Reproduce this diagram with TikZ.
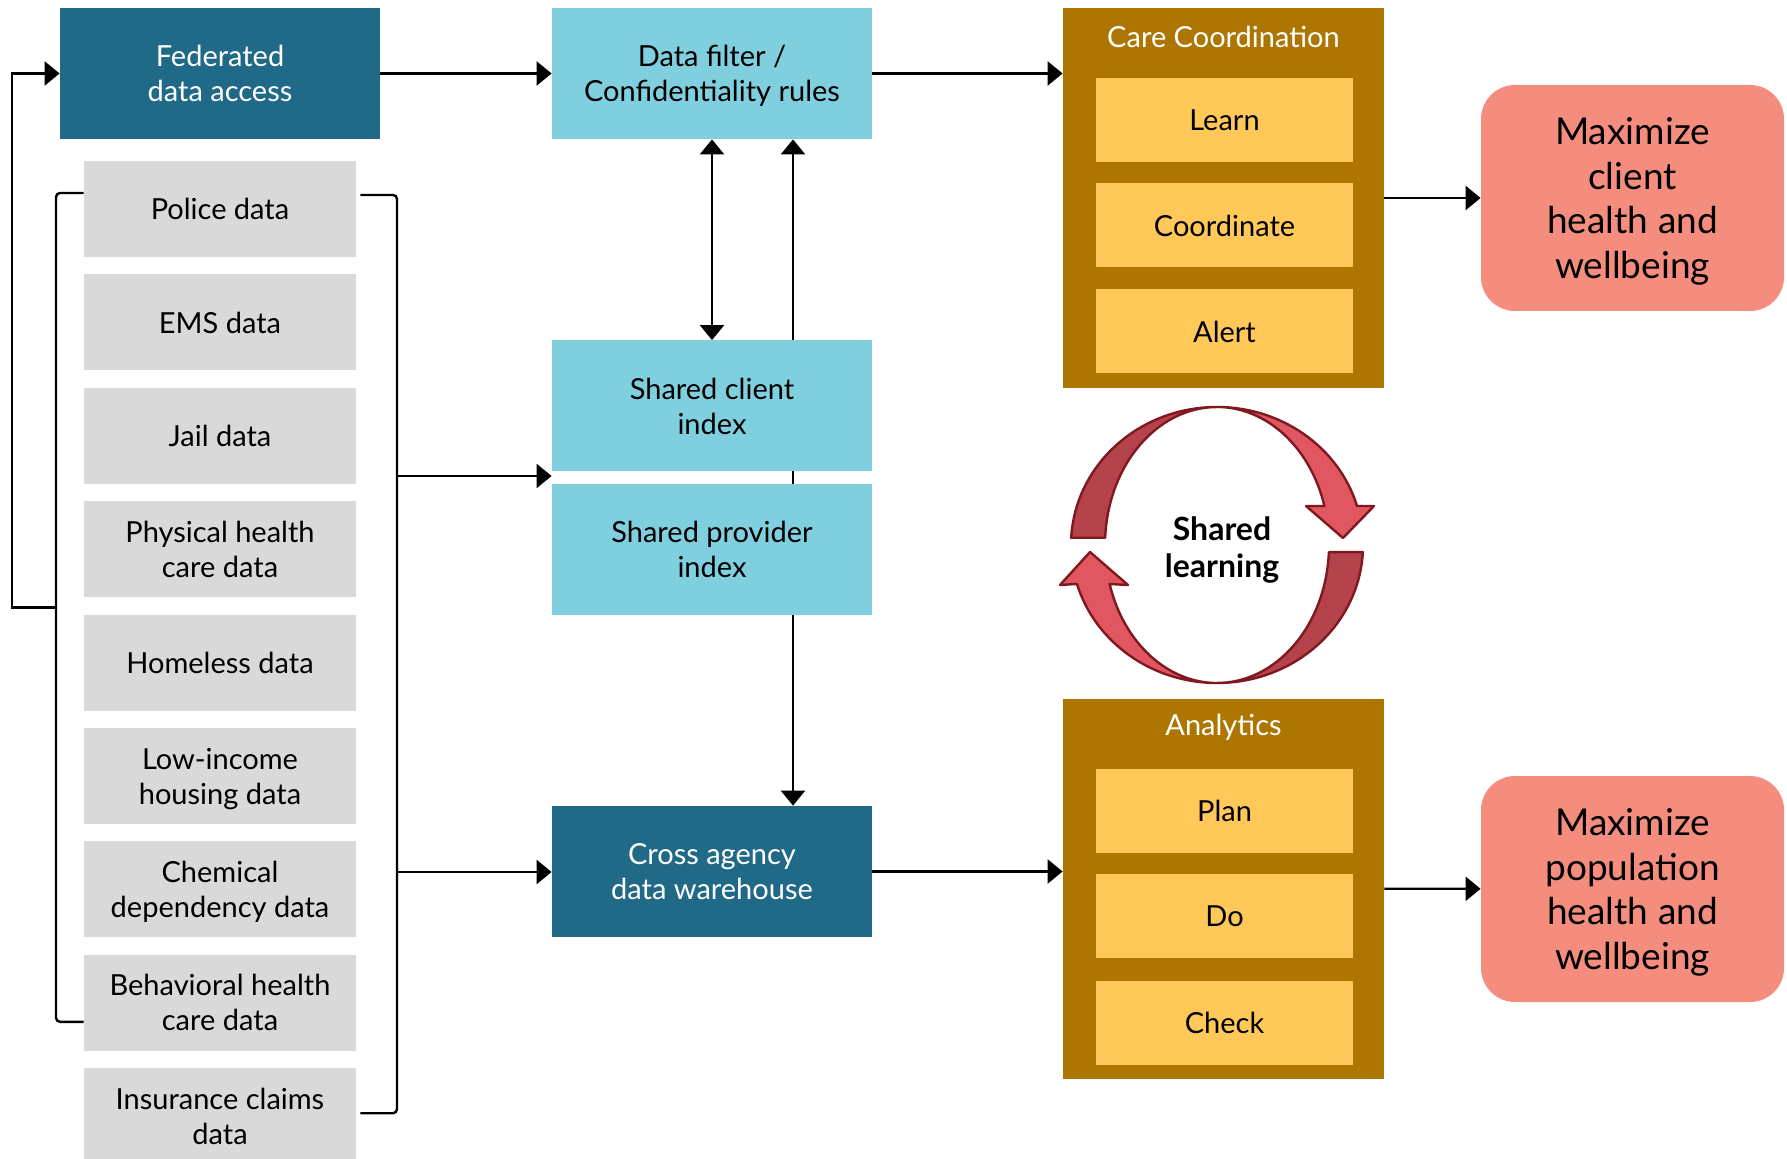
\documentclass[tikz,border=0pt]{standalone}
\usepackage{fontspec}
\setmainfont{Lato}
\usetikzlibrary{arrows.meta,calc,backgrounds}

\definecolor{cTeal}{RGB}{32,105,135}
\definecolor{cCyan}{RGB}{128,207,223}
\definecolor{cGray}{RGB}{217,217,217}
\definecolor{cGold}{RGB}{173,118,0}
\definecolor{cYellow}{RGB}{255,200,88}
\definecolor{cSalmon}{RGB}{244,141,125}
\definecolor{ringD}{RGB}{181,67,75}
\definecolor{ringL}{RGB}{224,87,97}
\definecolor{ringB}{RGB}{128,24,32}

\newcommand{\boxfont}{\fontsize{14.5}{17.5}\selectfont}
\newcommand{\maxfont}{\fontsize{18.5}{22.4}\selectfont}

\tikzstyle{fS}=[fill=cTeal,text=white,minimum width=160pt,minimum height=65.5pt,inner sep=0pt,align=center,font=\boxfont,text depth=0pt]
\tikzstyle{cS}=[fill=cCyan,minimum width=160pt,minimum height=65.5pt,inner sep=0pt,align=center,font=\boxfont,text depth=0pt]
\tikzstyle{gS}=[fill=cGray,minimum width=136pt,minimum height=48pt,inner sep=0pt,align=center,font=\boxfont,text depth=0pt]
\tikzstyle{oS}=[fill=cGold,minimum width=160.5pt,minimum height=190pt,inner sep=0pt]
\tikzstyle{tS}=[text=white,inner sep=0pt,font=\boxfont]
\tikzstyle{yS}=[fill=cYellow,minimum width=128.5pt,minimum height=42pt,inner sep=0pt,align=center,font=\boxfont]
\tikzstyle{mS}=[fill=cSalmon,rounded corners=17pt,minimum width=151.5pt,minimum height=113pt,inner sep=0pt,align=center,font=\maxfont,text depth=0pt]
\tikzstyle{lS}=[inner sep=0pt,align=center,font=\fontsize{16}{18.8}\selectfont\bfseries,text depth=0pt]
\tikzstyle{aS}=[line width=1.2pt]
\tikzstyle{bS}=[line width=1.2pt,rounded corners=2pt]
\tikzstyle{rD}=[fill=ringD,draw=ringB,line width=1.2pt,line join=round]
\tikzstyle{rL}=[fill=ringL,draw=ringB,line width=1.2pt,line join=round]

\begin{document}
\begin{tikzpicture}[x=0.5pt,y=-0.5pt,>={Triangle[length=7.5pt,width=12pt]}]
                \useasboundingbox (0,0) rectangle (1787,1159);
                % sources
                \draw (220,73.5) node[fS] (fed) {Federated\\data access};
                \draw (220,209) node[gS] (police) {Police data};
                \draw (220,322.4) node[gS] (ems) {EMS data};
                \draw (220,435.8) node[gS] (jail) {Jail data};
                \draw (220,549.2) node[gS] (phys) {Physical health\\care data};
                \draw (220,662.6) node[gS] (homeless) {Homeless data};
                \draw (220,776) node[gS] (lowinc) {Low-income\\housing data};
                \draw (220,889.4) node[gS] (chem) {Chemical\\dependency data};
                \draw (220,1002.8) node[gS] (behav) {Behavioral health\\care data};
                \draw (220,1116.2) node[gS] (insur) {Insurance claims\\data};
                % middle
                \draw (712,73.5) node[cS] (filter) {Data filter /\\Confidentiality rules};
                \draw (712,406) node[cS] (client) {Shared client\\index};
                \draw (712,549.5) node[cS] (provider) {Shared provider\\index};
                \draw (712,871.5) node[fS] (wareh) {Cross agency\\data warehouse};
                % care coordination / analytics
                \draw (1223.5,198) node[oS] (care) {};
                \draw (1223.5,37) node[tS] (careT) {Care Coordination};
                \draw (1224.5,120) node[yS] (learn) {Learn};
                \draw (1224.5,225.5) node[yS] (coord) {Coordinate};
                \draw (1224.5,331.5) node[yS] (alert) {Alert};
                \draw (1223.5,888.5) node[oS] (ana) {};
                \draw (1223.5,727) node[tS] (anaT) {Analytics};
                \draw (1224.5,811) node[yS] (plan) {Plan};
                \draw (1224.5,916) node[yS] (do) {Do};
                \draw (1224.5,1022.5) node[yS] (check) {Check};
                % goals
                \draw (1632.5,198) node[mS] (maxC) {Maximize\\client\\health and\\wellbeing};
                \draw (1632.5,889) node[mS] (maxP) {Maximize\\population\\health and\\wellbeing};
                % shared learning
                \draw[rD] (1071.2,537.8) arc[start angle=183,end angle=270,x radius=146,y radius=138]
                    arc[start angle=270,end angle=183,x radius=112,y radius=138] -- cycle;
                \draw[rL] (1217,407) arc[start angle=270,end angle=343.6,x radius=146,y radius=138]
                    -- (1374,506) -- (1343,538) -- (1306,506) -- (1324.4,506)
                    arc[start angle=343.6,end angle=270,x radius=112,y radius=138] -- cycle;
                \draw[rD] (1362.8,552.2) arc[start angle=3,end angle=90,x radius=146,y radius=138]
                    arc[start angle=90,end angle=3,x radius=112,y radius=138] -- cycle;
                \draw[rL] (1217,683) arc[start angle=90,end angle=163.6,x radius=146,y radius=138]
                    -- (1060,585) -- (1090,552) -- (1128,585) -- (1109.6,584)
                    arc[start angle=163.6,end angle=90,x radius=112,y radius=138] -- cycle;
                \draw (1222,547) node[lS] (shared) {Shared\\learning};
                % brackets
                \coordinate (lb) at (56,607.5);
                \coordinate (rb1) at (397,476);
                \coordinate (rb2) at (397,872);
                \draw[bS] ($(police.west)+(0,-16)$) -| (lb) |- ($(behav.west)+(0,19)$);
                \draw[bS] ($(police.east)+(4,-14)$) -| (rb1) |- ($(insur.east)+(4,-3)$);
                % connectors
                \draw[aS,->] (lb) -- ++(-44,0) |- (fed.west);
                \draw[aS,->] (rb1) -- (rb1 -| client.west);
                \draw[aS,->] (rb2) -- (rb2 -| wareh.west);
                \draw[aS,->] (fed) -- (filter);
                \draw[aS,->] (filter.east) -- (filter.east -| care.west);
                \draw[aS,->] (care) -- (maxC);
                \draw[aS,<->] (filter) -- (client);
                \draw[aS,->] (wareh.east) -- (wareh.east -| ana.west);
                \draw[aS,->] (ana) -- (maxP);
                \begin{scope}[on background layer]
                \draw[aS,<->] ($(filter.south)+(81,0)$) -- ($(wareh.north)+(81,0)$);
                \end{scope}
        \end{tikzpicture}
\end{document}
